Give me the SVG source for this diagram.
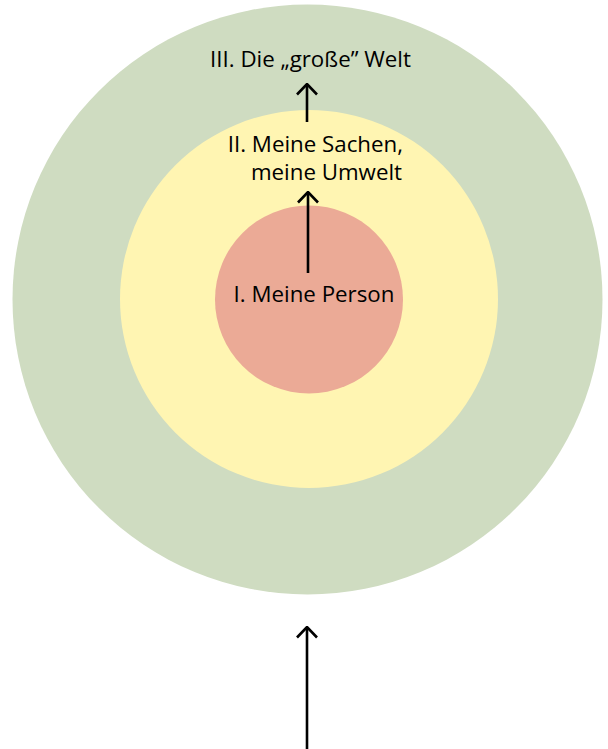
<svg xmlns="http://www.w3.org/2000/svg" width="608" height="749" viewBox="0 0 608 749">
<style>
.lbl{font-family:"Open Sans","Noto Sans","Liberation Sans",sans-serif;font-size:22.3px;fill:#000}
.conn{stroke:#000;stroke-width:2.6;fill:none}
</style>
<defs>
<marker id="open" viewBox="0 0 13 22" refX="11.5" refY="11" markerWidth="13" markerHeight="22" markerUnits="userSpaceOnUse" orient="auto">
<path d="M1,1 L11.5,11 L1,21" fill="none" stroke="#000" stroke-width="2.6"/>
</marker>
</defs>
<rect width="608" height="749" fill="#fff"/>
<g id="world">
<circle cx="307.5" cy="299.5" r="295" fill="#CFDCC1"/>
<text class="lbl" x="310.5" y="67" text-anchor="middle">III. Die „große” Welt</text>
</g>
<g id="things">
<circle cx="309" cy="299" r="189" fill="#FFF5B2"/>
<text class="lbl" x="403" y="152" text-anchor="end">II. Meine Sachen,</text>
<text class="lbl" x="402" y="180" text-anchor="end">meine Umwelt</text>
</g>
<g id="person">
<circle cx="309" cy="299.5" r="94" fill="#EBAA96"/>
<text class="lbl" x="314" y="302" text-anchor="middle">I. Meine Person</text>
</g>
<g id="connectors">
<line class="conn" x1="307" y1="122" x2="307" y2="84" marker-end="url(#open)"/>
<line class="conn" x1="308" y1="273" x2="308" y2="192" marker-end="url(#open)"/>
<line class="conn" x1="307" y1="749" x2="307" y2="627" marker-end="url(#open)"/>
</g>
</svg>
